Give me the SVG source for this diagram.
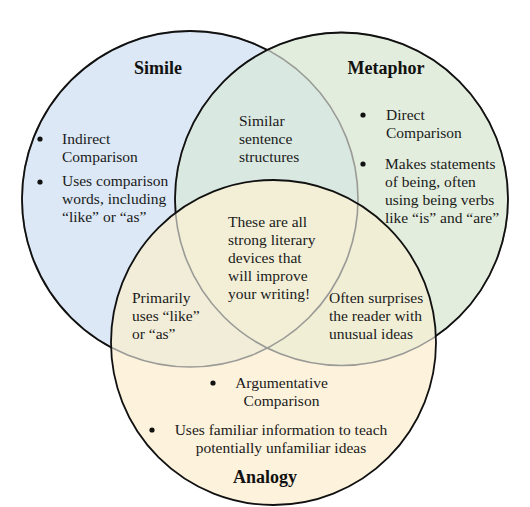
<svg xmlns="http://www.w3.org/2000/svg" width="530" height="507" viewBox="0 0 530 507">
<style>
.t{font-family:'Liberation Serif','DejaVu Serif',serif;font-size:15.5px;fill:#1a1a1a}
.h{font-family:'Liberation Serif','DejaVu Serif',serif;font-size:18px;font-weight:bold;fill:#111}
.m{text-anchor:middle}
.b{fill:#111}
.k{fill:none;stroke:#111;stroke-width:1.8}
.g{fill:none;stroke:#9a9a96;stroke-width:1.6}
</style>
<defs>
<clipPath id="cB"><circle cx="190" cy="199" r="168"/></clipPath>
<clipPath id="cG"><circle cx="341.5" cy="199" r="166.5"/></clipPath>
<mask id="mB" maskUnits="userSpaceOnUse" x="0" y="0" width="530" height="507">
<rect width="530" height="507" fill="#fff"/>
<circle cx="341.5" cy="199" r="166.5" fill="#000"/>
<circle cx="273.5" cy="342.5" r="162.5" fill="#000"/>
</mask>
<mask id="mG" maskUnits="userSpaceOnUse" x="0" y="0" width="530" height="507">
<rect width="530" height="507" fill="#fff"/>
<circle cx="273.5" cy="342.5" r="162.5" fill="#000"/>
</mask>
</defs>
<rect width="530" height="507" fill="#fff"/>
<g id="connectors"></g>
<g id="simile">
<circle cx="190" cy="199" r="168" fill="#dce8f5"/>
</g>
<g id="metaphor">
<circle cx="341.5" cy="199" r="166.5" fill="#e2eddd"/>
<circle cx="341.5" cy="199" r="166.5" fill="#d9e8e0" clip-path="url(#cB)"/>
</g>
<g id="analogy">
<circle cx="273.5" cy="342.5" r="162.5" fill="#fdf2dc"/>
<circle cx="273.5" cy="342.5" r="162.5" fill="#f1edd9" clip-path="url(#cB)"/>
<circle cx="273.5" cy="342.5" r="162.5" fill="#f1eed6" clip-path="url(#cG)"/>
<g clip-path="url(#cB)"><circle cx="273.5" cy="342.5" r="162.5" fill="#f2efd6" clip-path="url(#cG)"/></g>
</g>
<g id="outlines">
<circle class="g" cx="190" cy="199" r="168"/>
<circle class="g" cx="341.5" cy="199" r="166.5"/>
<circle class="k" cx="190" cy="199" r="168" mask="url(#mB)"/>
<circle class="k" cx="341.5" cy="199" r="166.5" mask="url(#mG)"/>
<circle class="k" cx="273.5" cy="342.5" r="162.5"/>
</g>
<g id="simile-text">
<text class="h m" x="158" y="74">Simile</text>
<circle class="b" cx="40" cy="139" r="2.6"/>
<text class="t" x="62" y="144">Indirect</text>
<text class="t" x="62" y="162">Comparison</text>
<circle class="b" cx="40" cy="182" r="2.6"/>
<text class="t" x="62" y="186">Uses comparison</text>
<text class="t" x="62" y="204">words, including</text>
<text class="t" x="62" y="222">“like” or “as”</text>
</g>
<g id="metaphor-text">
<text class="h m" x="386" y="74">Metaphor</text>
<circle class="b" cx="363" cy="115" r="2.6"/>
<text class="t" x="386" y="120">Direct</text>
<text class="t" x="386" y="138">Comparison</text>
<circle class="b" cx="363" cy="164" r="2.6"/>
<text class="t" x="385" y="169">Makes statements</text>
<text class="t" x="385" y="187">of being, often</text>
<text class="t" x="385" y="205">using being verbs</text>
<text class="t" x="385" y="223">like “is” and “are”</text>
</g>
<g id="simile-metaphor">
<text class="t" x="239" y="126">Similar</text>
<text class="t" x="239" y="144">sentence</text>
<text class="t" x="239" y="162">structures</text>
</g>
<g id="center">
<text class="t" x="228" y="227">These are all</text>
<text class="t" x="228" y="245">strong literary</text>
<text class="t" x="228" y="263">devices that</text>
<text class="t" x="228" y="281">will improve</text>
<text class="t" x="228" y="299">your writing!</text>
</g>
<g id="simile-analogy">
<text class="t" x="132" y="303">Primarily</text>
<text class="t" x="132" y="321">uses “like”</text>
<text class="t" x="132" y="339">or “as”</text>
</g>
<g id="metaphor-analogy">
<text class="t" x="329" y="303">Often surprises</text>
<text class="t" x="329" y="321">the reader with</text>
<text class="t" x="329" y="339">unusual ideas</text>
</g>
<g id="analogy-text">
<circle class="b" cx="213" cy="383" r="2.6"/>
<text class="t m" x="281.5" y="388">Argumentative</text>
<text class="t m" x="281.5" y="406">Comparison</text>
<circle class="b" cx="152" cy="430" r="2.6"/>
<text class="t m" x="281" y="435">Uses familiar information to teach</text>
<text class="t m" x="281" y="453">potentially unfamiliar ideas</text>
<text class="h m" x="265" y="483">Analogy</text>
</g>
</svg>
